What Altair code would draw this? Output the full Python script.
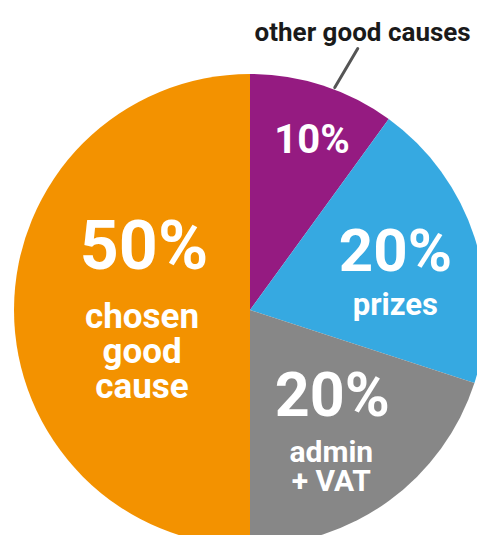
import altair as alt
import pandas as pd

# ---- data ----
categories = ["other good causes", "prizes", "admin + VAT", "chosen good cause"]
values = [10, 20, 20, 50]
pct_labels = ["10%", "20%", "20%", "50%"]
desc_lines = [[""], ["prizes"], ["admin", "+ VAT"], ["chosen", "good", "cause"]]
colors = ["#951B81", "#36A9E1", "#878787", "#F39200"]

df = pd.DataFrame({
    "cat": categories,
    "value": values,
    "order": list(range(len(categories))),
    "pct": pct_labels,
    "desc": desc_lines,
})

CX, CY, R = 242, 302, 236
FONT = "Roboto"
theta_scale = alt.Scale(domain=[0, 100])

base = alt.Chart(df)

pie = base.mark_arc(outerRadius=R, strokeWidth=0).encode(
    theta=alt.Theta("value:Q", stack=True, scale=theta_scale),
    color=alt.Color("cat:N", scale=alt.Scale(domain=categories, range=colors), legend=None),
    order=alt.Order("order:Q"),
    x=alt.value(CX),
    y=alt.value(CY),
)


def with_mid(ch):
    return ch.transform_window(
        cum="sum(value)", sort=[alt.SortField("order")], frame=[None, 0]
    ).transform_calculate(mid="datum.cum - datum.value / 2")


def label(cat, field, radius, size, dx, dy, line_height=None, color="white"):
    kw = dict(font=FONT, fontWeight="bold", fontSize=size, color=color,
              align="center", baseline="middle", radius=radius, dx=dx, dy=dy)
    if line_height:
        kw["lineHeight"] = line_height
    return with_mid(base).transform_filter(alt.datum.cat == cat).mark_text(**kw).encode(
        theta=alt.Theta("mid:Q", stack=False, scale=theta_scale),
        text=alt.Text(f"{field}:N"),
        x=alt.value(CX),
        y=alt.value(CY),
    )


layers = [
    pie,
    # other good causes
    label(categories[0], "pct", 178, 40, 7, 0),
    label(categories[0], "cat", 290, 26, 23, -1, color="#1a1a1a"),
    # prizes
    label(categories[1], "pct", 155, 60, -2, -9),
    label(categories[1], "desc", 155, 31, -2, 44),
    # admin + VAT
    label(categories[2], "pct", 140, 61, 0, -25),
    label(categories[2], "desc", 140, 30, -1, 30, line_height=29),
    # chosen good cause
    label(categories[3], "pct", 110, 68, 4, -61),
    label(categories[3], "desc", 110, 35, 2, 7, line_height=35),
]

leader = with_mid(base).transform_filter(alt.datum.cat == categories[0]).transform_calculate(
    a="datum.mid / 100 * 2 * PI + 0.05",
    x1=f"{CX} + {R + 2} * sin(datum.a)",
    y1=f"{CY} - {R + 2} * cos(datum.a)",
    x2="datum.x1 + 23",
    y2="datum.y1 - 39",
).mark_rule(color="#555555", strokeWidth=3, strokeCap="round").encode(
    x=alt.X("x1:Q", scale=None, axis=None),
    y=alt.Y("y1:Q", scale=None, axis=None),
    x2="x2:Q",
    y2="y2:Q",
)
layers.append(leader)

chart = alt.layer(*layers).properties(
    width=469, height=527, autosize=alt.AutoSizeParams(type="none"), padding=0
).configure_view(stroke=None)

chart.save("out.html", embed_options={"renderer": "svg", "actions": False})
